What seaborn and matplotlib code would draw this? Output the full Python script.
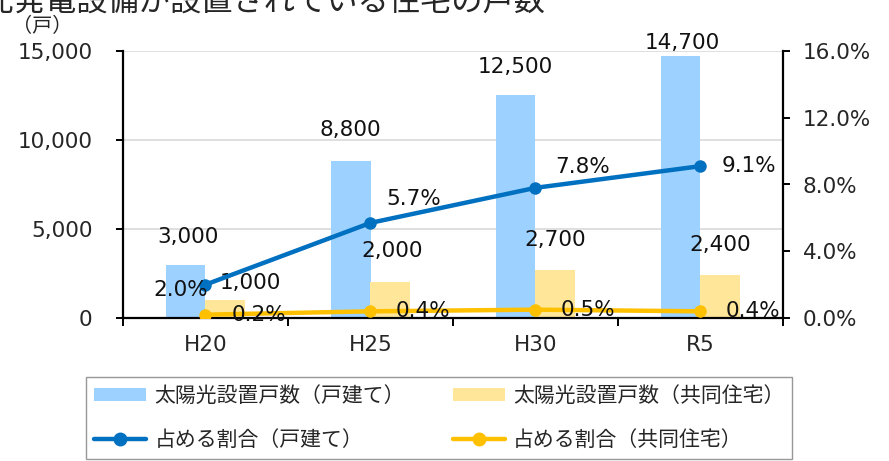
import matplotlib
matplotlib.use("Agg")
import matplotlib.pyplot as plt
from matplotlib.lines import Line2D
from matplotlib.patches import Patch
from matplotlib.ticker import FuncFormatter, FixedLocator
import pandas as pd
import seaborn as sns

# Data
years = ["H20", "H25", "H30", "R5"]
detached_units = [3000, 8800, 12500, 14700]
apartment_units = [1000, 2000, 2700, 2400]
detached_share = [2.0, 5.7, 7.8, 9.1]
apartment_share = [0.2, 0.4, 0.5, 0.4]

bar_names = ["太陽光設置戸数（戸建て）", "太陽光設置戸数（共同住宅）"]
line_names = ["占める割合（戸建て）", "占める割合（共同住宅）"]
title = "太陽光発電設備が設置されている住宅の戸数"

# Colours
c_bar_det = "#9DD1FF"
c_bar_apt = "#FFE699"
c_line_det = "#0070C0"
c_line_apt = "#FFC000"

sns.set_style("white")
plt.rcParams["font.family"] = ["Noto Sans CJK JP", "DejaVu Sans"]
FS = 14.5          # Japanese text
NUM_FS = 15.5      # numbers
NUM_FONT = "DejaVu Sans"

bars = pd.DataFrame({
    "year": years * 2,
    "units": detached_units + apartment_units,
    "kind": [bar_names[0]] * 4 + [bar_names[1]] * 4,
})
lines = pd.DataFrame({
    "pos": list(range(4)) * 2,
    "share": detached_share + apartment_share,
    "kind": [line_names[0]] * 4 + [line_names[1]] * 4,
})

fig = plt.figure(figsize=(8.89, 4.61), dpi=100)
ax = fig.add_axes([123 / 889, 1 - 318 / 461, (783 - 123) / 889, (318 - 51) / 461])

sns.barplot(data=bars, x="year", y="units", hue="kind", order=years,
            hue_order=bar_names, palette=[c_bar_det, c_bar_apt],
            width=0.48, gap=0, saturation=1, ax=ax, legend=False,
            edgecolor="none")
ax.set_xlim(-0.5, 3.5)
ax.set_ylim(0, 15000)
ax.set_yticks([0, 5000, 10000, 15000])
ax.yaxis.set_major_formatter(FuncFormatter(lambda v, p: f"{int(v):,}"))
ax.yaxis.grid(True, color="#D9D9D9", linewidth=1.2)
ax.set_axisbelow(True)
ax.set_xlabel("")
ax.set_ylabel("")

for s in ["top", "right"]:
    ax.spines[s].set_visible(False)
for s in ["left", "bottom"]:
    ax.spines[s].set_color("black")
    ax.spines[s].set_linewidth(1.6)

ax.tick_params(axis="y", which="major", direction="out", length=5, width=1.4,
               color="black", pad=17, labelsize=NUM_FS, left=True)
ax.tick_params(axis="x", which="major", length=0, pad=12, labelsize=NUM_FS)
for lab in ax.get_xticklabels() + ax.get_yticklabels():
    lab.set_fontfamily(NUM_FONT)
ax.xaxis.set_minor_locator(FixedLocator([-0.5, 0.5, 1.5, 2.5, 3.5]))
ax.tick_params(axis="x", which="minor", direction="out", length=6, width=1.4,
               color="black", bottom=True)

# Bar value labels
det_off = [(2, 28), (0, 31), (0, 28), (2, 13)]
apt_off = [(25, 17), (2, 31), (0, 30), (0, 30)]
for i, v in enumerate(detached_units):
    ax.annotate(f"{v:,}", xy=(i - 0.12, v), xytext=det_off[i],
                textcoords="offset pixels", ha="center", va="center",
                fontsize=NUM_FS, family=NUM_FONT, color="#111111")
for i, v in enumerate(apartment_units):
    ax.annotate(f"{v:,}", xy=(i + 0.12, v), xytext=apt_off[i],
                textcoords="offset pixels", ha="center", va="center",
                fontsize=NUM_FS, family=NUM_FONT, color="#111111")

# Share lines on the secondary axis
ax2 = ax.twinx()
sns.lineplot(data=lines, x="pos", y="share", hue="kind", hue_order=line_names,
             palette=[c_line_det, c_line_apt], linewidth=3.2, marker="o",
             markersize=9, markeredgewidth=0, ax=ax2, legend=False)
ax2.set_xlim(-0.5, 3.5)
ax2.set_ylim(0, 16)
ax2.set_yticks([0, 4, 8, 12, 16])
ax2.yaxis.set_major_formatter(FuncFormatter(lambda v, p: f"{v:.1f}%"))
ax2.set_xlabel("")
ax2.set_ylabel("")
for s in ["top", "left", "bottom"]:
    ax2.spines[s].set_visible(False)
ax2.spines["right"].set_color("black")
ax2.spines["right"].set_linewidth(1.6)
ax2.tick_params(axis="y", direction="out", length=5, width=1.4, color="black",
                pad=9, labelsize=NUM_FS, right=True)
for lab in ax2.get_yticklabels():
    lab.set_fontfamily(NUM_FONT)
ax2.grid(False)

det_share_off = [(-25, -5), (43, 24), (47, 21), (48, 0)]
apt_share_off = [(53, 0), (52, 0), (52, 0), (52, 0)]
for i, v in enumerate(detached_share):
    ax2.annotate(f"{v:.1f}%", xy=(i, v), xytext=det_share_off[i],
                 textcoords="offset pixels", ha="center", va="center",
                 fontsize=NUM_FS, family=NUM_FONT, color="#111111")
for i, v in enumerate(apartment_share):
    ax2.annotate(f"{v:.1f}%", xy=(i, v), xytext=apt_share_off[i],
                 textcoords="offset pixels", ha="center", va="center",
                 fontsize=NUM_FS, family=NUM_FONT, color="#111111")

# Legend below the plot
handles = [
    Patch(facecolor=c_bar_det, edgecolor="none", label=bar_names[0]),
    Line2D([], [], color=c_line_det, lw=3.2, marker="o", ms=9, label=line_names[0]),
    Patch(facecolor=c_bar_apt, edgecolor="none", label=bar_names[1]),
    Line2D([], [], color=c_line_apt, lw=3.2, marker="o", ms=9, label=line_names[1]),
]
leg = fig.legend(handles=handles, ncol=2, loc="upper left",
                 bbox_to_anchor=(86 / 889, 1 - 377 / 461),
                 frameon=True, fancybox=False, edgecolor="#7F7F7F",
                 fontsize=15, handlelength=2.5, handleheight=0.6,
                 columnspacing=2.3, labelspacing=1.05, borderpad=0.38,
                 handletextpad=0.4, borderaxespad=0)
leg.get_frame().set_linewidth(1.0)

fig.text(12 / 889, 1 - 27 / 461, "（戸）", ha="left", va="center", fontsize=FS)
fig.text(546 / 889, 1 - 18 / 461, title, ha="right", va="bottom", fontsize=22.5)

fig.savefig("out.png", dpi=100)
